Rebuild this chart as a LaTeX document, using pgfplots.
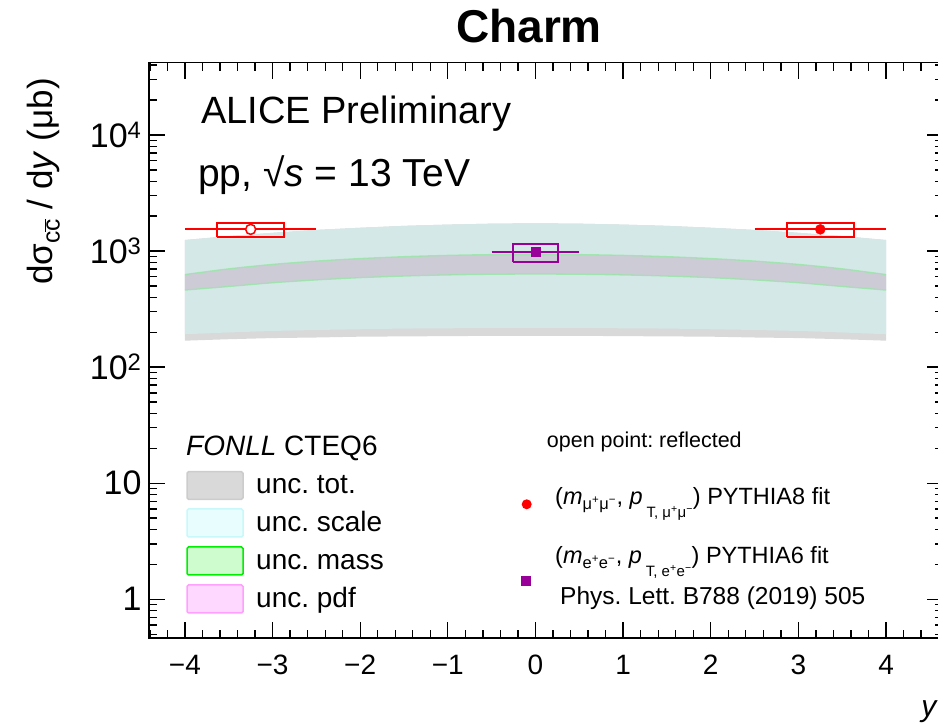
\documentclass[border=0pt]{standalone}
\usepackage{fontspec}
\setmainfont{Liberation Sans}
\usepackage{pgfplots}
\pgfplotsset{compat=1.18}

\definecolor{totgray}{RGB}{217,217,217}
\definecolor{scaleteal}{RGB}{213,232,232}
\definecolor{midband}{RGB}{205,203,214}
\definecolor{massline}{RGB}{150,230,165}
\definecolor{alipurple}{RGB}{153,0,153}
\newcommand{\fs}[1]{\fontsize{#1}{#1}\selectfont}
\frenchspacing

\begin{document}
\begin{tikzpicture}[x=1pt,y=1pt]
\useasboundingbox (0,0) rectangle (938,728);
\clip (0,0) rectangle (938,728);
\begin{axis}[
    at={(149pt,89.7pt)}, anchor=south west,
    scale only axis, width=794pt, height=575.6pt,
    xmin=-4.41, xmax=4.65,
    ymode=log, ymin=0.461, ymax=41970,
    xtick={-4,-3,-2,-1,0,1,2,3,4},
    xticklabels={−4,−3,−2,−1,0,1,2,3,4},
    minor xtick={-4.4,-4.2,-3.8,-3.6,-3.4,-3.2,-2.8,-2.6,-2.4,-2.2,-1.8,-1.6,-1.4,-1.2,-0.8,-0.6,-0.4,-0.2,0.2,0.4,0.6,0.8,1.2,1.4,1.6,1.8,2.2,2.4,2.6,2.8,3.2,3.4,3.6,3.8,4.2,4.4,4.6},
    ytick={1,10,100,1000,10000},
    yticklabels={1,10,10\textsuperscript{2},10\textsuperscript{3},10\textsuperscript{4}},
    minor ytick={0.5,0.6,0.7,0.8,0.9,2,3,4,5,6,7,8,9,20,30,40,50,60,70,80,90,200,300,400,500,600,700,800,900,2000,3000,4000,5000,6000,7000,8000,9000,20000,30000,40000},
    major tick length=16pt, minor tick length=8pt,
    tick align=inside,
    every tick/.style={black, line width=1.3pt},
    axis line style={line width=1.6pt},
    xticklabel style={font=\fs{28}, yshift=-13pt},
    yticklabel style={font=\fs{34}, xshift=-4pt},
]
% FONLL total uncertainty
\addplot[fill=totgray, draw=none] coordinates {
(-4,1245)(-3.5,1346)(-3,1436)(-2.5,1521)(-2,1588)(-1.5,1649)(-1,1691)(-0.5,1722)(0,1734)(0.5,1722)(1,1691)(1.5,1649)(2,1588)(2.5,1521)(3,1436)(3.5,1346)(4,1245)
(4,169)(3.5,174)(3,178)(2.5,180)(2,183)(1.5,184)(1,185)(0.5,186)(0,186)(-0.5,186)(-1,185)(-1.5,184)(-2,183)(-2.5,180)(-3,178)(-3.5,174)(-4,169)
} -- cycle;
% scale uncertainty
\addplot[fill=scaleteal, draw=none] coordinates {
(-4,1245)(-3.5,1346)(-3,1436)(-2.5,1521)(-2,1588)(-1.5,1649)(-1,1691)(-0.5,1722)(0,1734)(0.5,1722)(1,1691)(1.5,1649)(2,1588)(2.5,1521)(3,1436)(3.5,1346)(4,1245)
(4,192)(3.5,199)(3,205)(2.5,209)(2,212)(1.5,215)(1,216)(0.5,218)(0,218)(-0.5,218)(-1,216)(-1.5,215)(-2,212)(-2.5,209)(-3,205)(-3.5,199)(-4,192)
} -- cycle;
% mass / pdf uncertainty
\addplot[fill=midband, draw=none] coordinates {
(-4,628)(-3.5,703)(-3,768)(-2.5,820)(-2,862)(-1.5,895)(-1,918)(-0.5,932)(0,937)(0.5,932)(1,918)(1.5,895)(2,862)(2.5,820)(3,768)(3.5,703)(4,628)
(4,461)(3.5,495)(3,533)(2.5,564)(2,590)(1.5,609)(1,623)(0.5,631)(0,634)(-0.5,631)(-1,623)(-1.5,609)(-2,590)(-2.5,564)(-3,533)(-3.5,495)(-4,461)
} -- cycle;
\addplot[massline, line width=1.3pt, opacity=0.8, smooth] coordinates {
(-4,628)(-3.5,703)(-3,768)(-2.5,820)(-2,862)(-1.5,895)(-1,918)(-0.5,932)(0,937)(0.5,932)(1,918)(1.5,895)(2,862)(2.5,820)(3,768)(3.5,703)(4,628)};
\addplot[massline, line width=1.3pt, opacity=0.8, smooth] coordinates {
(-4,461)(-3.5,495)(-3,533)(-2.5,564)(-2,590)(-1.5,609)(-1,623)(-0.5,631)(0,634)(0.5,631)(1,623)(1.5,609)(2,590)(2.5,564)(3,533)(3.5,495)(4,461)};

% dimuon, PYTHIA8 (reflected at negative y)
\addplot[red, line width=2pt] coordinates {(-4,1538)(-2.5,1538)};
\addplot[red, line width=2.2pt] coordinates {(-3.63,1312)(-2.87,1312)(-2.87,1753)(-3.63,1753)(-3.63,1312)};
\addplot[only marks, mark=*, mark size=5pt, mark options={fill=white, draw=red, line width=1.5pt}] coordinates {(-3.25,1538)};
\addplot[red, line width=2pt] coordinates {(2.5,1538)(4,1538)};
\addplot[red, line width=2.2pt] coordinates {(2.87,1312)(3.63,1312)(3.63,1753)(2.87,1753)(2.87,1312)};
\addplot[only marks, mark=*, mark size=5pt, red] coordinates {(3.25,1538)};

% dielectron, PYTHIA6
\addplot[alipurple, line width=2pt] coordinates {(-0.5,986)(0.5,986)};
\addplot[alipurple, line width=2.2pt] coordinates {(-0.26,809)(0.26,809)(0.26,1142)(-0.26,1142)(-0.26,809)};
\addplot[alipurple, line width=2pt] coordinates {(0,925)(0,1050)};
\addplot[only marks, mark=square*, mark size=4.5pt, alipurple] coordinates {(0,986)};
\end{axis}

% title and labels
\node[anchor=base, inner sep=0, font=\fs{46}\bfseries] at (529,685) {Charm};
\node[anchor=base west, inner sep=0, font=\fs{38}] at (201,604.7) {ALICE Preliminary};
\node[anchor=base west, inner sep=0, font=\fs{39}] at (198,541) {pp, √\textit{s} = 13 TeV};
\node[anchor=base east, rotate=90, inner sep=0, font=\fs{35}] at (53,650)
  {dσ\textsubscript{c$\overline{\mbox{c}}$} / d\textit{y} (μb)};
\node[anchor=base east, inner sep=0, font=\fs{30}] at (938,11) {\textit{y}};

% FONLL legend
\node[anchor=base west, inner sep=0, font=\fs{28}] at (186,272) {\textit{FONLL} CTEQ6};
\draw[line width=1.5pt, rounded corners=1.5pt, draw={rgb,255:red,204;green,204;blue,204}, fill=totgray] (187,228.7) rectangle (243,256.3);
\draw[line width=1.5pt, rounded corners=1.5pt, draw={rgb,255:red,200;green,248;blue,250}, fill={rgb,255:red,232;green,254;blue,254}] (187,191) rectangle (243,219);
\draw[line width=1.5pt, rounded corners=1.5pt, draw={rgb,255:red,0;green,238;blue,0}, fill={rgb,255:red,206;green,252;blue,206}] (187,153) rectangle (243,181);
\draw[line width=1.5pt, rounded corners=1.5pt, draw={rgb,255:red,255;green,160;blue,255}, fill={rgb,255:red,255;green,216;blue,255}] (187,115) rectangle (243,143);
\node[anchor=base west, inner sep=0, font=\fs{28}] at (256,234) {unc. tot.};
\node[anchor=base west, inner sep=0, font=\fs{28}] at (256,196) {unc. scale};
\node[anchor=base west, inner sep=0, font=\fs{28}] at (256,158) {unc. mass};
\node[anchor=base west, inner sep=0, font=\fs{28}] at (256,120) {unc. pdf};

% data legend
\node[anchor=base west, inner sep=0, font=\fs{21.5}] at (546.7,280.7) {open point: reflected};
\fill[red] (526.7,223.7) circle (5);
\node[anchor=base west, inner sep=0, font=\fs{23.5}] at (555,223)
  {(\textit{m}\textsubscript{μ\textsuperscript{+}μ\textsuperscript{−}}, \textit{p}\,\raisebox{-0.55em}{\fs{15}T, μ\textsuperscript{+}μ\textsuperscript{−}}) PYTHIA8 fit};
\fill[alipurple] (521,142) rectangle (531,152);
\node[anchor=base west, inner sep=0, font=\fs{23.5}] at (555,164)
  {(\textit{m}\textsubscript{e\textsuperscript{+}e\textsuperscript{−}}, \textit{p}\,\raisebox{-0.55em}{\fs{15}T, e\textsuperscript{+}e\textsuperscript{−}}) PYTHIA6 fit};
\node[anchor=base west, inner sep=0, font=\fs{24.5}] at (560,123) {Phys. Lett. B788 (2019) 505};
\end{tikzpicture}
\end{document}
